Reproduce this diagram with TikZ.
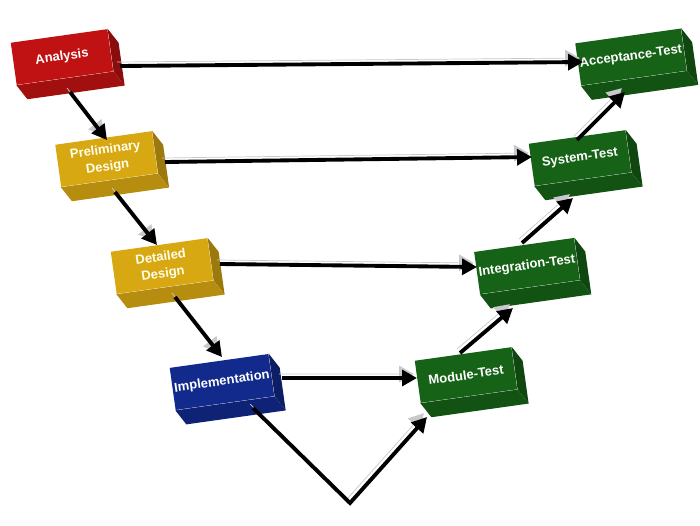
\documentclass[tikz,border=0pt]{standalone}
\usepackage{fontspec}
\setmainfont{Liberation Sans}
\usetikzlibrary{positioning,calc,arrows.meta}
\definecolor{VRed}{RGB}{192,18,18}
\definecolor{VGold}{RGB}{216,168,18}
\definecolor{VBlue}{RGB}{18,42,140}
\definecolor{VGreen}{RGB}{22,98,22}
\definecolor{VShade}{RGB}{200,200,206}

\begin{document}
\begin{tikzpicture}[
    font=\fontsize{7.4}{9.6}\selectfont\bfseries,
    block/.style={
        minimum width=1.95cm,
        minimum height=0.85cm,
        align=center,
        rotate=8,
        inner sep=1pt,
        text=white
    },
    redblock/.style={block, fill=VRed},
    goldblock/.style={block, fill=VGold, text=white!92!yellow},
    blueblock/.style={block, fill=VBlue},
    greenblock/.style={block, fill=VGreen},
    flow/.style={
        line width=2.2pt,
        -{Triangle[length=8.5pt,width=9pt]},
        preaction={draw=VShade, transform canvas={shift={(-0.06,0.08)}}}
    }
]
\useasboundingbox (0,0) rectangle (14,-10.5);

% left branch
\node[redblock] (analysis) at (1.24,-1.14) {Analysis};
\node[goldblock] (prelim) at (2.13,-3.18) {Preliminary\\Design};
\node[goldblock] (detailed) at (3.24,-5.32) {Detailed\\Design};
\node[blueblock] (impl) at (4.44,-7.64) {Implementation};

% right branch
\node[greenblock] (module) at (9.32,-7.50) {Module-Test};
\node[greenblock] (integ) at (10.54,-5.32) {Integration-Test};
\node[greenblock] (system) at (11.60,-3.16) {System-Test};
\node[greenblock] (accept) at (12.62,-1.14) {Acceptance-Test};

\coordinate (vbottom) at (7.0,-10.06);

% side and bottom faces
\foreach \n/\c in {analysis/VRed,prelim/VGold,detailed/VGold,impl/VBlue,
                   module/VGreen,integ/VGreen,system/VGreen,accept/VGreen}{
  \fill[\c!72!black] (\n.north east) -- ++(0.22,-0.28)
      -- ($(\n.south east)+(0.22,-0.28)$) -- (\n.south east) -- cycle;
  \fill[\c!84!black] (\n.south west) -- (\n.south east)
      -- ++(0.22,-0.28) -- ($(\n.south west)+(0.22,-0.28)$) -- cycle;
}

% verification links
\draw[flow] ($(analysis)+(1.16,-0.18)$) -- ($(accept)+(-0.96,-0.10)$);
\draw[flow] ($(prelim)+(1.17,-0.06)$) -- ($(system)+(-0.96,0.02)$);
\draw[flow] ($(detailed)+(1.16,0.04)$) -- ($(integ)+(-1.0,-0.02)$);
\draw[flow] ($(impl)+(1.2,0.08)$) -- ($(module)+(-0.98,-0.06)$);

% down the V
\draw[flow] ($(analysis)+(0.16,-0.7)$) -- ($(prelim)+(0.01,0.38)$);
\draw[flow] ($(prelim)+(0.17,-0.66)$) -- ($(detailed)+(-0.1,0.42)$);
\draw[flow] ($(detailed)+(0.26,-0.62)$) -- ($(impl)+(0,0.5)$);
\draw[flow] ($(impl)+(0.62,-0.52)$) -- (vbottom) -- ($(module)+(-0.78,-0.84)$);

% up the V
\draw[flow] ($(module)+(-0.12,0.44)$) -- ($(integ)+(-0.28,-0.84)$);
\draw[flow] ($(integ)+(-0.1,0.46)$) -- ($(system)+(-0.14,-0.8)$);
\draw[flow] ($(system)+(-0.06,0.36)$) -- ($(accept)+(-0.12,-0.7)$);

\end{tikzpicture}
\end{document}
